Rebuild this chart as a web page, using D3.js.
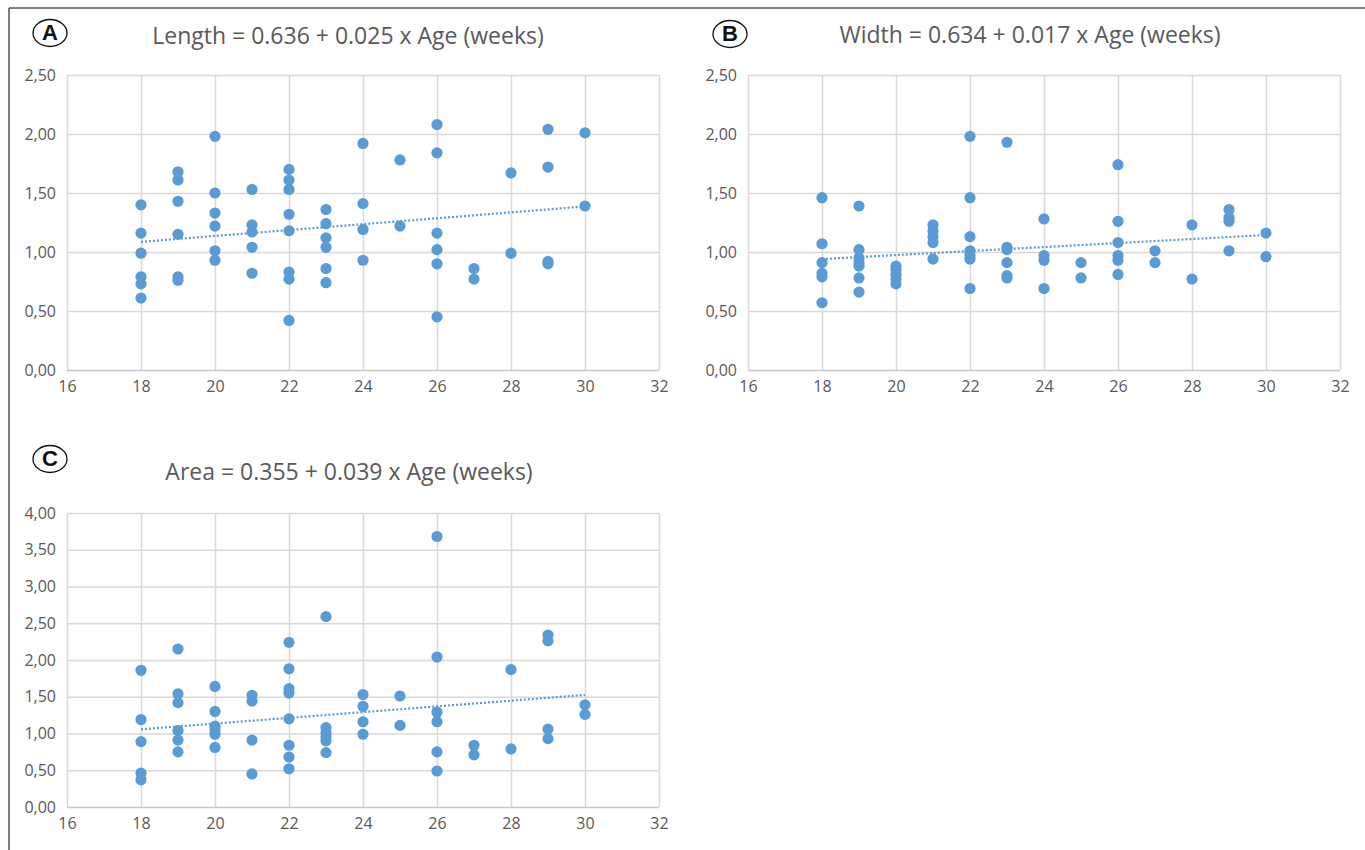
<!DOCTYPE html>
<html>
<head>
<meta charset="utf-8">
<script src="https://cdn.jsdelivr.net/npm/d3@7"></script>
<style>
  body { margin: 0; background: #fff; }
  text { font-family: "Open Sans", sans-serif; }
</style>
</head>
<body>
<script>
const lengthAge = [18,18,18,18,18,18, 19,19,19,19,19,19, 20,20,20,20,20,20, 21,21,21,21,21,
  22,22,22,22,22,22,22,22, 23,23,23,23,23,23, 24,24,24,24, 25,25, 26,26,26,26,26,26, 27,27, 28,28, 29,29,29,29, 30,30];
const lengthVal = [1.40,1.16,0.99,0.79,0.73,0.61, 1.68,1.61,1.43,1.15,0.79,0.76, 1.98,1.50,1.33,1.22,1.01,0.93, 1.53,1.23,1.17,1.04,0.82,
  1.70,1.61,1.53,1.32,1.18,0.83,0.77,0.42, 1.36,1.24,1.12,1.04,0.86,0.74, 1.92,1.41,1.19,0.93, 1.78,1.22, 2.08,1.84,1.16,1.02,0.90,0.45, 0.86,0.77, 1.67,0.99, 2.04,1.72,0.92,0.90, 2.01,1.39];

const widthAge = [18,18,18,18,18,18, 19,19,19,19,19,19,19, 20,20,20,20,20, 21,21,21,21,21,
  22,22,22,22,22,22,22, 23,23,23,23,23,23, 24,24,24,24, 25,25, 26,26,26,26,26,26, 27,27, 28,28, 29,29,29,29, 30,30];
const widthVal = [1.46,1.07,0.91,0.82,0.79,0.57, 1.39,1.02,0.95,0.91,0.88,0.78,0.66, 0.88,0.85,0.81,0.77,0.73, 1.23,1.18,1.13,1.08,0.94,
  1.98,1.46,1.13,1.01,0.97,0.94,0.69, 1.93,1.04,1.02,0.91,0.80,0.78, 1.28,0.97,0.93,0.69, 0.91,0.78, 1.74,1.26,1.08,0.97,0.93,0.81, 1.01,0.91, 1.23,0.77, 1.36,1.29,1.26,1.01, 1.16,0.96];

const areaAge = [18,18,18,18,18, 19,19,19,19,19,19, 20,20,20,20,20,20, 21,21,21,21,
  22,22,22,22,22,22,22,22, 23,23,23,23,23,23, 24,24,24,24, 25,25, 26,26,26,26,26,26, 27,27, 28,28, 29,29,29,29, 30,30];
const areaVal = [1.86,1.19,0.89,0.46,0.37, 2.15,1.54,1.42,1.04,0.91,0.75, 1.64,1.30,1.10,1.05,0.99,0.81, 1.52,1.44,0.91,0.45,
  2.24,1.88,1.61,1.55,1.20,0.84,0.68,0.52, 2.59,1.08,1.01,0.95,0.90,0.74, 1.53,1.37,1.16,0.99, 1.51,1.11, 3.68,2.04,1.29,1.16,0.75,0.49, 0.84,0.71, 1.87,0.79, 2.34,2.26,1.06,0.93, 1.39,1.26];

// regression coefficients from the titles: intercept, slope
const lengthFit = [0.636, 0.025];
const widthFit = [0.634, 0.017];
const areaFit = [0.355, 0.039];

const titles = ['Length = 0.636 + 0.025 x Age (weeks)', 'Width = 0.634 + 0.017 x Age (weeks)', 'Area = 0.355 + 0.039 x Age (weeks)'];
const letters = ['A', 'B', 'C'];
const xTicks = [16, 18, 20, 22, 24, 26, 28, 30, 32];
const yTicksSmall = [0, 0.5, 1, 1.5, 2, 2.5];
const yTicksArea = [0, 0.5, 1, 1.5, 2, 2.5, 3, 3.5, 4];

const dotColor = '#5b9bd5';
const textColor = '#595959';
const gridColor = '#d9d9d9';

const fmt = d3.formatLocale({ decimal: ',', thousands: '.', grouping: [3], currency: ['', ''] }).format('.2f');

const svg = d3.select('body').append('svg')
    .attr('width', 1365)
    .attr('height', 850);

// outer frame (top and left edges visible)
svg.append('line').attr('x1', 9).attr('y1', 8).attr('x2', 1365).attr('y2', 8)
    .attr('stroke', '#555').attr('stroke-width', 1.5);
svg.append('line').attr('x1', 9).attr('y1', 8).attr('x2', 9).attr('y2', 850)
    .attr('stroke', '#555').attr('stroke-width', 1.5);

function drawPanel(p, ages, vals, fit, yTicks, title, letter) {
    const g = svg.append('g');
    const x = d3.scaleLinear().domain([16, 32]).range([p.left, p.right]);
    const y = d3.scaleLinear().domain([0, d3.max(yTicks)]).range([p.bottom, p.top]);

    // vertical grid
    g.append('g')
        .attr('transform', `translate(0,${p.bottom})`)
        .call(d3.axisBottom(x).tickValues(xTicks).tickSize(-(p.bottom - p.top)).tickPadding(11))
        .call(a => a.select('.domain').remove())
        .call(a => a.selectAll('line').attr('stroke', gridColor).attr('stroke-width', 1.5))
        .call(a => a.selectAll('text').attr('fill', textColor).attr('font-size', 16)
            .style('font-family', '"Open Sans", sans-serif'));

    // horizontal grid
    g.append('g')
        .attr('transform', `translate(${p.left},0)`)
        .call(d3.axisLeft(y).tickValues(yTicks).tickFormat(fmt).tickSize(-(p.right - p.left)).tickPadding(11))
        .call(a => a.select('.domain').remove())
        .call(a => a.selectAll('line').attr('stroke', d => d === 0 ? '#c8c8c8' : gridColor).attr('stroke-width', 1.5))
        .call(a => a.selectAll('text').attr('fill', textColor).attr('font-size', 16)
            .style('font-family', '"Open Sans", sans-serif'));

    // points
    g.selectAll('circle.pt')
        .data(ages.map((a, i) => [a, vals[i]]))
        .enter()
        .append('circle')
        .attr('class', 'pt')
        .attr('cx', d => x(d[0]))
        .attr('cy', d => y(d[1]))
        .attr('r', 5.6)
        .attr('fill', dotColor);

    // dotted trend line
    const x0 = d3.min(ages), x1 = d3.max(ages);
    g.append('line')
        .attr('x1', x(x0)).attr('y1', y(fit[0] + fit[1] * x0))
        .attr('x2', x(x1)).attr('y2', y(fit[0] + fit[1] * x1))
        .attr('stroke', dotColor)
        .attr('stroke-width', 2.2)
        .attr('stroke-dasharray', '2,2');

    g.append('text')
        .attr('x', p.titleX)
        .attr('y', p.titleY)
        .attr('text-anchor', 'middle')
        .attr('dominant-baseline', 'middle')
        .attr('fill', textColor)
        .attr('font-size', 23)
        .text(title);

    g.append('ellipse')
        .attr('cx', p.letterX).attr('cy', p.letterY)
        .attr('rx', 17).attr('ry', 13.5)
        .attr('fill', 'none').attr('stroke', '#111').attr('stroke-width', 1.3);
    g.append('text')
        .attr('x', p.letterX).attr('y', p.letterY + 1)
        .attr('text-anchor', 'middle')
        .attr('dominant-baseline', 'middle')
        .attr('font-size', 22)
        .attr('font-weight', 'bold')
        .attr('fill', '#111')
        .style('font-family', '"Liberation Sans", Arial, sans-serif')
        .text(letter);
}

drawPanel({ left: 67, right: 659, top: 75, bottom: 370, titleX: 348, titleY: 38, letterX: 50, letterY: 33 },
    lengthAge, lengthVal, lengthFit, yTicksSmall, titles[0], letters[0]);
drawPanel({ left: 748, right: 1340, top: 75, bottom: 370, titleX: 1030, titleY: 37, letterX: 730, letterY: 34 },
    widthAge, widthVal, widthFit, yTicksSmall, titles[1], letters[1]);
drawPanel({ left: 67, right: 659, top: 513, bottom: 807, titleX: 349, titleY: 474, letterX: 50, letterY: 459 },
    areaAge, areaVal, areaFit, yTicksArea, titles[2], letters[2]);
</script>
</body>
</html>
